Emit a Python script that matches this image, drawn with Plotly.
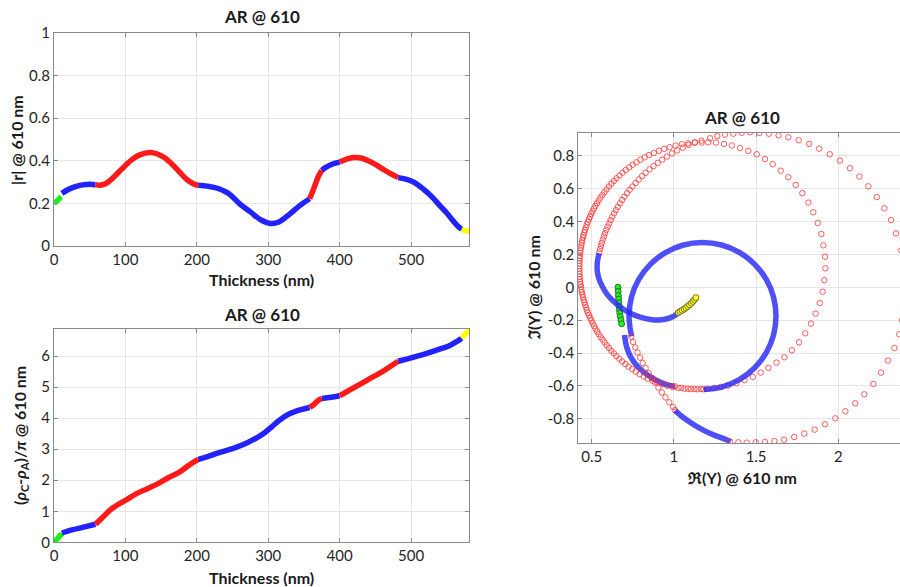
import plotly.graph_objects as go

FONT = "Lato, 'Open Sans', sans-serif"
RED = "#ff1a1a"
BLUE = "#2222ff"
GREEN = "#19f019"
YELLOW = "#ffff00"
MRED = "rgba(255,40,40,0.75)"
MBLUE = "rgba(40,40,245,0.82)"

# ---------------- |r| versus thickness (per layer segment) ----------------
t_r_green = [0, 3, 6, 10]
r_green = [0.203, 0.208, 0.218, 0.232]
t_r_blueA = [11, 20, 30, 40, 50, 58]
r_blueA = [0.247, 0.265, 0.279, 0.287, 0.290, 0.288]
t_r_redA = [58, 64, 72, 80, 90, 100, 110, 120, 134, 145, 155, 165, 175, 185, 195, 202]
r_redA = [0.288, 0.285, 0.292, 0.312, 0.345, 0.378, 0.408, 0.428, 0.439, 0.432, 0.414, 0.385, 0.350, 0.315, 0.292, 0.285]
t_r_blueB = [202, 215, 230, 245, 260, 275, 290, 303, 315, 330, 345, 358]
r_blueB = [0.285, 0.281, 0.270, 0.245, 0.198, 0.160, 0.122, 0.106, 0.113, 0.150, 0.192, 0.222]
t_r_redB = [358, 362, 366, 370, 375]
r_redB = [0.222, 0.255, 0.290, 0.325, 0.355]
t_r_blueC = [375, 380, 390, 400]
r_blueC = [0.355, 0.368, 0.385, 0.394]
t_r_redC = [400, 410, 420, 430, 440, 450, 460, 470, 482]
r_redC = [0.394, 0.408, 0.415, 0.413, 0.400, 0.383, 0.362, 0.342, 0.321]
t_r_blueD = [482, 495, 505, 517, 530, 541, 550, 559, 565, 571]
r_blueD = [0.321, 0.312, 0.298, 0.268, 0.228, 0.187, 0.155, 0.118, 0.095, 0.078]
t_r_yellow = [571, 575, 578, 582]
r_yellow = [0.078, 0.073, 0.071, 0.070]

# ---------------- phase versus thickness ----------------
t_p_green = [0, 4, 8, 11]
p_green = [0.0, 0.10, 0.20, 0.29]
t_p_blueA = [11, 25, 40, 58]
p_blueA = [0.30, 0.40, 0.48, 0.58]
t_p_redA = [58, 68, 78, 90, 100, 115, 130, 145, 160, 175, 190, 202]
p_redA = [0.58, 0.80, 1.03, 1.22, 1.35, 1.56, 1.72, 1.88, 2.08, 2.25, 2.50, 2.67]
t_p_blueB = [202, 215, 230, 250, 270, 285, 295, 305, 315, 325, 340, 358]
p_blueB = [2.67, 2.76, 2.88, 3.02, 3.20, 3.38, 3.53, 3.72, 3.92, 4.08, 4.23, 4.34]
t_p_redB = [358, 365, 370, 375]
p_redB = [4.34, 4.46, 4.57, 4.63]
t_p_blueC = [375, 388, 400]
p_blueC = [4.63, 4.67, 4.72]
t_p_redC = [400, 420, 440, 460, 482]
p_redC = [4.72, 4.98, 5.24, 5.50, 5.83]
t_p_blueD = [482, 500, 520, 540, 555, 565, 571]
p_blueD = [5.83, 5.94, 6.07, 6.22, 6.35, 6.48, 6.57]
t_p_yellow = [571, 575, 579, 582]
p_yellow = [6.57, 6.68, 6.78, 6.86]

# ---------------- admittance locus (Re Y, Im Y) ----------------
re_green = [0.660, 0.661, 0.662, 0.664, 0.665, 0.667, 0.669, 0.671, 0.674, 0.678, 0.682]
im_green = [0.0, -0.025, -0.050, -0.072, -0.095, -0.117, -0.138, -0.158, -0.178, -0.200, -0.222]

re_blueA = [0.700, 0.706, 0.718, 0.738, 0.765, 0.800, 0.845, 0.895, 0.950, 1.007]
im_blueA = [-0.290, -0.335, -0.380, -0.425, -0.465, -0.502, -0.537, -0.567, -0.590, -0.603]

re_redA = [1.007, 1.045, 1.085, 1.125, 1.165, 1.205, 1.245, 1.285, 1.330, 1.380, 1.430, 1.480,
           1.528, 1.575, 1.624, 1.672, 1.718, 1.761, 1.799, 1.834, 1.862, 1.887, 1.905, 1.915,
           1.921, 1.919, 1.909, 1.897, 1.875, 1.848, 1.818, 1.781, 1.741, 1.696, 1.650, 1.601,
           1.554, 1.504, 1.453, 1.402, 1.352, 1.305, 1.256, 1.209, 1.169, 1.127, 1.086, 1.048,
           1.010, 0.974, 0.941, 0.909, 0.878, 0.849, 0.822, 0.797, 0.772, 0.749, 0.728, 0.707,
           0.687, 0.669, 0.651, 0.635, 0.619, 0.605, 0.590, 0.577, 0.565, 0.553, 0.543, 0.532,
           0.523, 0.514, 0.505, 0.497, 0.490, 0.483, 0.476, 0.470, 0.465, 0.459, 0.455, 0.450,
           0.447, 0.443, 0.440, 0.437, 0.434, 0.432, 0.430, 0.428, 0.427, 0.426, 0.425, 0.425,
           0.425, 0.425, 0.426, 0.427, 0.428, 0.430, 0.432, 0.435, 0.437, 0.440, 0.444, 0.447,
           0.451, 0.456, 0.460, 0.466, 0.471, 0.477, 0.484, 0.491, 0.498, 0.506, 0.515, 0.523,
           0.533, 0.543, 0.554, 0.566, 0.578, 0.591, 0.605, 0.619, 0.635, 0.650, 0.668, 0.685,
           0.705, 0.724, 0.746, 0.768, 0.791, 0.817, 0.842, 0.870, 0.899, 0.929, 0.960, 0.993,
           1.028, 1.065, 1.103, 1.143, 1.180]
im_redA = [-0.603, -0.612, -0.617, -0.619, -0.619, -0.617, -0.612, -0.606, -0.598, -0.584, -0.565, -0.545,
           -0.519, -0.490, -0.458, -0.426, -0.383, -0.335, -0.280, -0.221, -0.160, -0.096, -0.027, 0.043,
           0.115, 0.186, 0.255, 0.324, 0.391, 0.456, 0.515, 0.572, 0.622, 0.669, 0.709, 0.748,
           0.780, 0.809, 0.829, 0.847, 0.862, 0.872, 0.880, 0.882, 0.880, 0.880, 0.875, 0.870,
           0.862, 0.852, 0.842, 0.830, 0.817, 0.804, 0.790, 0.776, 0.760, 0.745, 0.729, 0.713,
           0.697, 0.680, 0.663, 0.646, 0.630, 0.613, 0.595, 0.578, 0.561, 0.545, 0.528, 0.511,
           0.495, 0.479, 0.462, 0.446, 0.429, 0.413, 0.397, 0.381, 0.364, 0.348, 0.333, 0.317,
           0.302, 0.286, 0.271, 0.255, 0.240, 0.224, 0.208, 0.192, 0.176, 0.160, 0.145, 0.129,
           0.113, 0.097, 0.081, 0.065, 0.049, 0.033, 0.018, 0.002, -0.014, -0.030, -0.045, -0.061,
           -0.076, -0.091, -0.107, -0.123, -0.139, -0.155, -0.171, -0.187, -0.203, -0.219, -0.236, -0.252,
           -0.268, -0.285, -0.302, -0.318, -0.335, -0.352, -0.369, -0.386, -0.402, -0.418, -0.435, -0.451,
           -0.467, -0.483, -0.498, -0.513, -0.528, -0.543, -0.556, -0.568, -0.579, -0.590, -0.600, -0.607,
           -0.613, -0.617, -0.619, -0.620, -0.620]

re_blueB = [1.182, 1.290, 1.398, 1.490, 1.561, 1.606, 1.621, 1.606, 1.561, 1.490, 1.398,
            1.290, 1.174, 1.058, 0.951, 0.858, 0.787, 0.742, 0.727, 0.734, 0.744]
im_blueB = [-0.622, -0.607, -0.562, -0.491, -0.399, -0.291, -0.175, -0.059, 0.049, 0.141, 0.212,
            0.257, 0.272, 0.257, 0.212, 0.141, 0.049, -0.059, -0.175, -0.253, -0.298]

re_redB = [0.740, 0.752, 0.765, 0.779, 0.794, 0.810, 0.828, 0.847, 0.866, 0.886, 0.906,
           0.927, 0.949, 0.972, 0.995, 1.007]
im_redB = [-0.300, -0.333, -0.366, -0.397, -0.428, -0.460, -0.492, -0.522, -0.552, -0.581, -0.610,
           -0.640, -0.670, -0.700, -0.728, -0.748]

re_blueC = [1.007, 1.045, 1.085, 1.125, 1.165, 1.205, 1.245, 1.285, 1.320, 1.345]
im_blueC = [-0.750, -0.783, -0.812, -0.838, -0.861, -0.882, -0.899, -0.914, -0.927, -0.939]

re_redC = [1.341, 1.392, 1.443, 1.498, 1.554, 1.611, 1.670, 1.732, 1.793, 1.856, 1.919, 1.982,
           2.043, 2.103, 2.158, 2.213, 2.260, 2.302, 2.341, 2.371, 2.388, 2.403, 2.409, 2.408,
           2.400, 2.383, 2.351, 2.321, 2.280, 2.234, 2.183, 2.128, 2.071, 2.010, 1.948, 1.884,
           1.822, 1.759, 1.696, 1.637, 1.578, 1.520, 1.463, 1.412, 1.361, 1.311, 1.264, 1.220,
           1.168, 1.128, 1.090, 1.054, 1.020, 0.988, 0.957, 0.929, 0.902, 0.876, 0.852, 0.828,
           0.807, 0.786, 0.767, 0.748, 0.731, 0.715, 0.699, 0.685, 0.672, 0.659, 0.647, 0.636,
           0.625, 0.615, 0.606, 0.597, 0.589, 0.581, 0.574, 0.568, 0.561, 0.556, 0.551, 0.546]
im_redC = [-0.939, -0.943, -0.945, -0.943, -0.941, -0.935, -0.927, -0.911, -0.890, -0.866, -0.833, -0.797,
           -0.754, -0.706, -0.651, -0.588, -0.519, -0.446, -0.369, -0.286, -0.201, -0.117, -0.031, 0.054,
           0.140, 0.224, 0.328, 0.408, 0.480, 0.549, 0.614, 0.673, 0.724, 0.770, 0.809, 0.843,
           0.872, 0.894, 0.912, 0.924, 0.934, 0.939, 0.943, 0.939, 0.934, 0.928, 0.920, 0.906,
           0.892, 0.881, 0.866, 0.849, 0.832, 0.814, 0.795, 0.776, 0.757, 0.737, 0.717, 0.696,
           0.676, 0.655, 0.634, 0.613, 0.593, 0.572, 0.551, 0.531, 0.510, 0.489, 0.469, 0.449,
           0.429, 0.408, 0.388, 0.369, 0.349, 0.329, 0.309, 0.290, 0.270, 0.251, 0.232, 0.212]

re_blueD = [0.546, 0.537, 0.533, 0.535, 0.545, 0.562, 0.585, 0.615, 0.652, 0.695, 0.745,
            0.800, 0.857, 0.912, 0.965, 1.000, 1.027]
im_blueD = [0.207, 0.170, 0.130, 0.090, 0.050, 0.010, -0.030, -0.068, -0.103, -0.135, -0.162,
            -0.183, -0.196, -0.199, -0.190, -0.176, -0.156]

re_yellow = [1.027, 1.038, 1.050, 1.062, 1.073, 1.084, 1.095, 1.106, 1.116, 1.126, 1.134]
im_yellow = [-0.154, -0.147, -0.140, -0.133, -0.125, -0.116, -0.107, -0.097, -0.086, -0.075, -0.063]

# ---------------- tick labels ----------------
thick_ticks = [0, 100, 200, 300, 400, 500]
thick_labels = ["0", "100", "200", "300", "400", "500"]
r_ticks = [0, 0.2, 0.4, 0.6, 0.8, 1]
r_labels = ["0", "0.2", "0.4", "0.6", "0.8", "1"]
p_ticks = [0, 1, 2, 3, 4, 5, 6]
p_labels = ["0", "1", "2", "3", "4", "5", "6"]
re_ticks = [0.5, 1, 1.5, 2]
re_labels = ["0.5", "1", "1.5", "2"]
im_ticks = [-0.8, -0.6, -0.4, -0.2, 0, 0.2, 0.4, 0.6, 0.8]
im_labels = ["-0.8", "-0.6", "-0.4", "-0.2", "0", "0.2", "0.4", "0.6", "0.8"]

fig = go.Figure()

r_segments = [
    (t_r_green, r_green, GREEN), (t_r_blueA, r_blueA, BLUE), (t_r_redA, r_redA, RED),
    (t_r_blueB, r_blueB, BLUE), (t_r_redB, r_redB, RED), (t_r_blueC, r_blueC, BLUE),
    (t_r_redC, r_redC, RED), (t_r_blueD, r_blueD, BLUE), (t_r_yellow, r_yellow, YELLOW),
]
p_segments = [
    (t_p_green, p_green, GREEN), (t_p_blueA, p_blueA, BLUE), (t_p_redA, p_redA, RED),
    (t_p_blueB, p_blueB, BLUE), (t_p_redB, p_redB, RED), (t_p_blueC, p_blueC, BLUE),
    (t_p_redC, p_redC, RED), (t_p_blueD, p_blueD, BLUE), (t_p_yellow, p_yellow, YELLOW),
]
for xs, ys, c in r_segments:
    fig.add_trace(go.Scatter(x=xs, y=ys, mode="lines", line=dict(color=c, width=5.5, shape="spline"),
                             xaxis="x", yaxis="y", hoverinfo="skip", cliponaxis=False))
for xs, ys, c in p_segments:
    fig.add_trace(go.Scatter(x=xs, y=ys, mode="lines", line=dict(color=c, width=5.5, shape="spline"),
                             xaxis="x2", yaxis="y2", hoverinfo="skip", cliponaxis=False))


# admittance plot, drawn layer by layer in deposition order
def blue_band(xs, ys):
    fig.add_trace(go.Scatter(x=xs, y=ys, mode="lines", line=dict(color=MBLUE, width=5.5, shape="spline"),
                             xaxis="x3", yaxis="y3", hoverinfo="skip"))


def red_rings(xs, ys):
    fig.add_trace(go.Scatter(x=xs, y=ys, mode="markers",
                             marker=dict(symbol="circle-open", size=5.5, color=MRED, line=dict(width=1, color=MRED)),
                             xaxis="x3", yaxis="y3", hoverinfo="skip"))


def dots(xs, ys, fill, edge):
    fig.add_trace(go.Scatter(x=xs, y=ys, mode="markers",
                             marker=dict(symbol="circle", size=6, color=fill, line=dict(width=0.8, color=edge)),
                             xaxis="x3", yaxis="y3", hoverinfo="skip"))


dots(re_green, im_green, "#22ee22", "#225522")
blue_band(re_blueA, im_blueA)
red_rings(re_redA, im_redA)
blue_band(re_blueB, im_blueB)
red_rings(re_redB, im_redB)
blue_band(re_blueC, im_blueC)
red_rings(re_redC, im_redC)
blue_band(re_blueD, im_blueD)
dots(re_yellow, im_yellow, "#ffff22", "#555522")

W, H = 900, 587


def px_x(p):
    return p / W


def px_y(p):
    return 1 - p / H


axis_style = dict(showline=True, linecolor="#8a8a8a", linewidth=1, ticks="inside", ticklen=4,
                  tickcolor="#8a8a8a", showgrid=True, gridcolor="#e6e6e6", gridwidth=1, zeroline=False,
                  automargin=False, tickfont=dict(family=FONT, size=15, color="#262626"))

fig.update_layout(
    width=W, height=H, margin=dict(l=0, r=0, t=0, b=0, pad=0, autoexpand=False),
    paper_bgcolor="white", plot_bgcolor="white", showlegend=False,
    xaxis=dict(domain=[px_x(54), px_x(469.3)], range=[0, 581.6], tickvals=thick_ticks, ticktext=thick_labels,
               anchor="y", mirror="ticks", **axis_style),
    yaxis=dict(domain=[px_y(246), px_y(33)], range=[0, 1], tickvals=r_ticks, ticktext=r_labels,
               anchor="x", mirror="ticks", **axis_style),
    xaxis2=dict(domain=[px_x(54), px_x(469.3)], range=[0, 581.6], tickvals=thick_ticks, ticktext=thick_labels,
                anchor="y2", mirror="ticks", **axis_style),
    yaxis2=dict(domain=[px_y(542.3), px_y(329.3)], range=[0, 6.86], tickvals=p_ticks, ticktext=p_labels,
                anchor="x2", mirror="ticks", **axis_style),
    xaxis3=dict(domain=[px_x(578.3), 1.0], range=[0.4185, 0.5 + (900 - 591.7) / 164.4],
                tickvals=re_ticks, ticktext=re_labels, anchor="y3", mirror="ticks", **axis_style),
    yaxis3=dict(domain=[px_y(443.3), px_y(132.7)], range=[-0.949, 0.940], tickvals=im_ticks, ticktext=im_labels,
                anchor="x3", **axis_style),
)

ann = []


def label(text, x, y, size=16, angle=0):
    ann.append(dict(text="<b>%s</b>" % text, x=px_x(x), y=px_y(y), xref="paper", yref="paper",
                    showarrow=False, textangle=angle, xanchor="center", yanchor="middle",
                    font=dict(family=FONT, size=size, color="#1a1a1a")))


label("AR @ 610", 261.7, 16, size=17)
label("AR @ 610", 261.7, 314, size=17)
label("AR @ 610", 741.7, 117, size=17)
label("Thickness (nm)", 261.7, 280)
label("Thickness (nm)", 261.7, 577)
label("|r| @ 610 nm", 17, 140, angle=-90)
label("(<i>ρ</i><sub>C</sub>-<i>ρ</i><sub>A</sub>)/<i>π</i> @ 610 nm", 20, 436, angle=-90)
label("ℜ(Y) @ 610 nm", 741.7, 477)
label("ℑ(Y) @ 610 nm", 533, 287, angle=-90)
fig.update_layout(annotations=ann)

fig.write_html("out.html", config={"displayModeBar": False},
               post_script="document.body.style.margin='0px';")
